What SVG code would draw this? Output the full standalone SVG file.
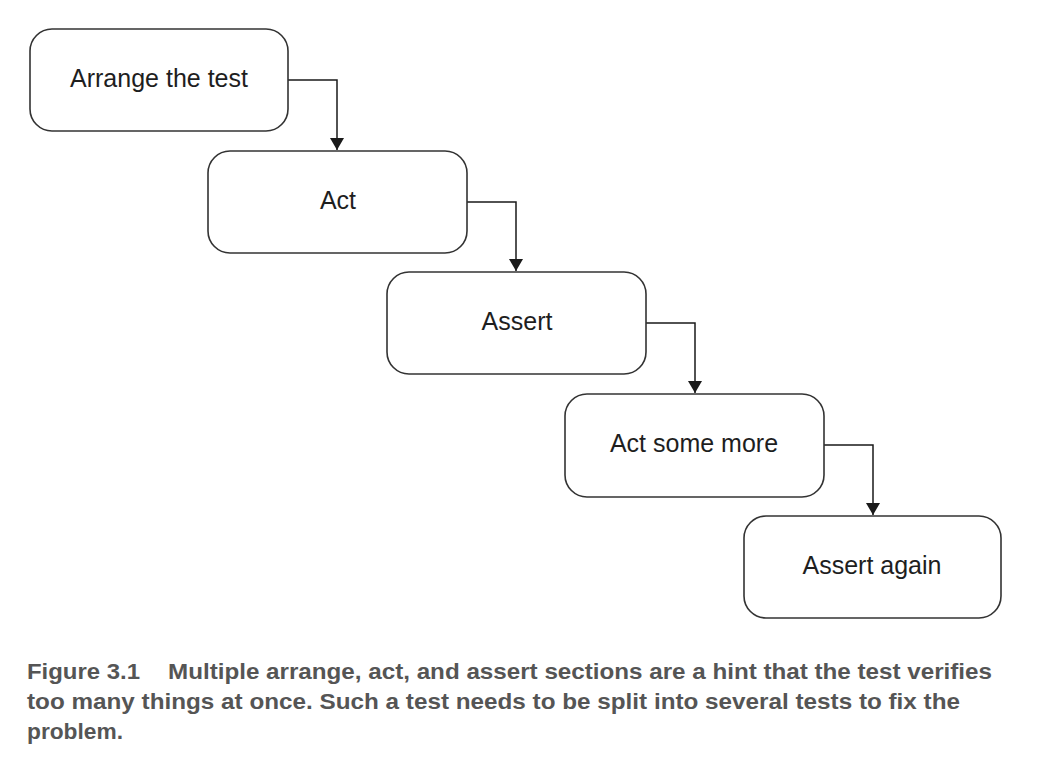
<svg xmlns="http://www.w3.org/2000/svg" width="1038" height="760" viewBox="0 0 1038 760">
  <style>
    .box { fill: #ffffff; stroke: #333333; stroke-width: 1.6; }
    .label { font-family: "Liberation Sans", Arial, sans-serif; font-size: 25px; fill: #1e1e1e; text-anchor: middle; }
    .conn { fill: none; stroke: #1a1a1a; stroke-width: 1.5; }
    .caption { font-family: "Liberation Sans Narrow", "Liberation Sans", Arial, sans-serif; font-weight: bold; font-size: 22.5px; fill: #555555; }
  </style>
  <defs>
    <marker id="arrow" viewBox="0 0 12 14" refX="12" refY="7" markerWidth="12" markerHeight="14" markerUnits="userSpaceOnUse" orient="auto">
      <path d="M0,0 L12,7 L0,14 Z" fill="#1a1a1a"/>
    </marker>
  </defs>
  <rect width="1038" height="760" fill="#ffffff"/>

  <g id="connectors">
    <path class="conn" d="M288,80 H337 V150" marker-end="url(#arrow)"/>
    <path class="conn" d="M467,202 H516 V271" marker-end="url(#arrow)"/>
    <path class="conn" d="M646,323 H695 V393" marker-end="url(#arrow)"/>
    <path class="conn" d="M824,445 H873 V515" marker-end="url(#arrow)"/>
  </g>

  <g id="node-arrange">
    <rect class="box" x="30" y="29" width="258" height="102" rx="22" ry="22"/>
    <text class="label" x="159" y="87">Arrange the test</text>
  </g>
  <g id="node-act">
    <rect class="box" x="208" y="151" width="259" height="102" rx="22" ry="22"/>
    <text class="label" x="338" y="209">Act</text>
  </g>
  <g id="node-assert">
    <rect class="box" x="387" y="272" width="259" height="102" rx="22" ry="22"/>
    <text class="label" x="517" y="330">Assert</text>
  </g>
  <g id="node-act-more">
    <rect class="box" x="565" y="394" width="259" height="103" rx="22" ry="22"/>
    <text class="label" x="694" y="452">Act some more</text>
  </g>
  <g id="node-assert-again">
    <rect class="box" x="744" y="516" width="257" height="102" rx="22" ry="22"/>
    <text class="label" x="872" y="574">Assert again</text>
  </g>

  <g id="caption">
    <text class="caption" x="27" y="679" textLength="113" lengthAdjust="spacingAndGlyphs">Figure 3.1</text>
    <text class="caption" x="168" y="679" textLength="824" lengthAdjust="spacingAndGlyphs">Multiple arrange, act, and assert sections are a hint that the test verifies</text>
    <text class="caption" x="27" y="709" textLength="933" lengthAdjust="spacingAndGlyphs">too many things at once. Such a test needs to be split into several tests to fix the</text>
    <text class="caption" x="27" y="739" textLength="96" lengthAdjust="spacingAndGlyphs">problem.</text>
  </g>
</svg>
